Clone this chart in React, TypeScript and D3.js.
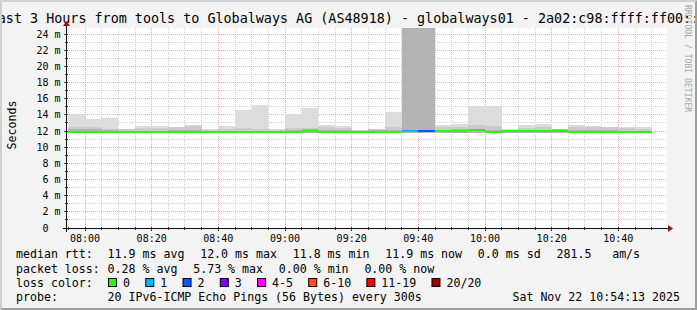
import React from "react";
import * as d3 from "d3";

// ---------- data ----------
const titleText =
  "Last 3 Hours from tools to Globalways AG (AS48918) - globalways01 - 2a02:c98:ffff:ff00::1";

const barEnds = [
  "08:00", "08:05", "08:10", "08:15", "08:20", "08:25", "08:30", "08:35", "08:40", "08:45",
  "08:50", "08:55", "09:00", "09:05", "09:10", "09:15", "09:20", "09:25", "09:30", "09:35",
  "09:40", "09:45", "09:50", "09:55", "10:00", "10:05", "10:10", "10:15", "10:20", "10:25",
  "10:30", "10:35", "10:40", "10:45", "10:50",
];
// smoke (ms)
const smokeMax = [
  14.1, 13.5, 13.6, 12.3, 12.65, 12.65, 12.5, 12.8, 12.3, 12.65,
  14.65, 15.2, 12.2, 14.1, 14.9, 12.75, 12.6, 12.15, 12.3, 14.35,
  30, 30, 12.7, 12.87, 15.05, 15.05, 12.2, 12.7, 12.87, 12.3,
  12.75, 12.6, 12.5, 12.5, 12.5,
];
const smokeUpper = [
  12.5, 12.5, 12.3, 12.2, 12.35, 12.35, 12.5, 12.6, 12.15, 12.3,
  12.4, 12.3, 12.1, 12.35, 12.4, 12.55, 12.4, 12.1, 12.25, 12.5,
  30, 30, 12.55, 12.45, 12.75, 12.65, 12.1, 12.4, 12.5, 12.2,
  12.5, 12.45, 12.5, 12.35, 12.3,
];
const smokeInner = [
  12.2, 12.2, 12.1, 12.05, 12.05, 12.05, 12.1, 12.1, 12.0, 12.05,
  12.05, 12.05, 12.0, 12.1, 12.2, 12.1, 12.1, 12.05, 12.1, 12.1,
  30, 30, 12.15, 12.2, 12.3, 12.1, 12.15, 12.15, 12.15, 12.2,
  12.1, 12.1, 12.1, 12.05, 12.05,
];
const medianRtt = [
  11.9, 11.9, 11.9, 11.85, 11.85, 11.85, 11.85, 11.85, 11.85, 11.85,
  11.85, 11.85, 11.85, 11.9, 12.05, 11.9, 11.9, 11.88, 11.9, 11.9,
  12.03, 12.05, 11.95, 12.0, 12.08, 11.88, 12.0, 11.95, 11.95, 12.0,
  11.9, 11.88, 11.88, 11.88, 11.85,
];
const smokeMin = [
  11.75, 11.75, 11.75, 11.72, 11.72, 11.72, 11.72, 11.72, 11.72, 11.72,
  11.72, 11.72, 11.72, 11.75, 11.75, 11.75, 11.75, 11.75, 11.75, 11.75,
  11.8, 11.8, 11.78, 11.8, 11.8, 11.75, 11.75, 11.78, 11.78, 11.8,
  11.75, 11.75, 11.75, 11.75, 11.72,
];
const lossCount = [
  0, 0, 0, 0, 0, 0, 0, 0, 0, 0,
  0, 0, 0, 0, 0, 0, 0, 0, 0, 0,
  1, 2, 0, 0, 0, 0, 0, 0, 0, 0,
  0, 0, 0, 0, 0,
];

const lossLabels = ["0", "1", "2", "3", "4-5", "6-10", "11-19", "20/20"];
const lossColors = ["#26ff00", "#00b8ff", "#0059ff", "#7e00ff", "#ff00ff", "#ff5500", "#ff0000", "#a10000"];
const lossUpper = [0, 1, 2, 3, 5, 10, 19, 20];

const rttStats = ["11.9 ms avg", "12.0 ms max", "11.8 ms min", "11.9 ms now", "0.0 ms sd", "281.5"];
const rateUnit = "am/s";
const lossStats = ["0.28 % avg", "5.73 % max", "0.00 % min", "0.00 % now"];
const probeText = "20 IPv6-ICMP Echo Pings (56 Bytes) every 300s";
const stampText = "Sat Nov 22 10:54:13 2025";

// ---------- component ----------
const MONO = "'DejaVu Sans Mono', monospace";

export default function App() {
  const W = 697, H = 310;
  const L = 67, R = 667, T = 28, B = 228;
  const day = (hh: number, mm: number, ss = 0) => new Date(2025, 10, 22, hh, mm, ss);
  const parse = (s: string) => {
    const [h, m] = s.split(":").map(Number);
    return day(h, m);
  };
  const x = d3.scaleTime().domain([day(7, 54, 36), day(10, 54, 36)]).range([L, R]);
  const y = d3.scaleLinear().domain([0, 24.75]).range([B, T]);
  const minorT = x.ticks(d3.timeMinute.every(5) as any);
  const majorT = x.ticks(d3.timeMinute.every(20) as any);
  const majorSet = new Set(majorT.map((d) => +d));
  const fmt = d3.timeFormat("%H:%M");
  const yVals = y.ticks(24).filter((v) => v > 0 && v <= 24);

  const px = (v: number) => Math.floor(v) + 0.5;

  const colorFor = (loss: number) => {
    const i = lossUpper.findIndex((u) => loss <= u);
    return lossColors[i < 0 ? lossColors.length - 1 : i];
  };

  const bars = barEnds.map((e, i) => {
    const t1 = parse(e);
    const t0 = new Date(+t1 - 300000);
    return { x0: Math.max(L, x(t0)), x1: x(t1), i };
  });

  const CW = 6.96; // legend char width
  const LF = 11.6;
  const gap = 16;
  const col0 = 16, col1 = 107.6;
  const rowY = [258, 272.5, 287, 301];

  const layout = (items: string[]) => {
    let cx = col1;
    return items.map((s) => {
      const r = { s, x: cx };
      cx += s.length * CW + gap;
      return r;
    });
  };
  const rttLayout = layout(rttStats);
  const lastRtt = rttLayout[rttLayout.length - 1];

  let sx = 108;
  const swatches = lossLabels.map((lab, i) => {
    const r = { lab, c: lossColors[i], x: sx };
    sx += 15 + lab.length * CW + 15.3;
    return r;
  });

  return (
    <svg width={W} height={H} style={{ position: "absolute", left: 0, top: 0, fontFamily: MONO }}>
      <defs>
        <clipPath id="cv">
          <rect x={L} y={T} width={R - L} height={B - T} />
        </clipPath>
        <clipPath id="img">
          <rect x={0} y={0} width={W} height={H} />
        </clipPath>
      </defs>
      <rect x={0} y={0} width={W} height={H} fill="#f3f3f3" />
      {/* title */}
      <text x={W / 2} y={23} fontSize={13.4} textAnchor="middle" fill="#000" clipPath="url(#img)">
        {titleText}
      </text>
      {/* canvas */}
      <rect x={L} y={T} width={R - L} height={B - T} fill="#ffffff" />
      {/* grid */}
      <g strokeDasharray="1,1" strokeWidth={1}>
        {minorT.filter((t) => !majorSet.has(+t)).map((t, i) => (
          <line key={"vm" + i} x1={px(x(t))} x2={px(x(t))} y1={T} y2={B} stroke="#d2d2d2" />
        ))}
        {yVals.filter((v) => v % 2 !== 0).map((v) => (
          <line key={"hm" + v} x1={L} x2={R} y1={px(y(v))} y2={px(y(v))} stroke="#d2d2d2" />
        ))}
        {majorT.map((t, i) => (
          <line key={"vM" + i} x1={px(x(t))} x2={px(x(t))} y1={T} y2={B} stroke="#eeaaaa" />
        ))}
        {yVals.filter((v) => v % 2 === 0).map((v) => (
          <line key={"hM" + v} x1={L} x2={R} y1={px(y(v))} y2={px(y(v))} stroke="#eeaaaa" />
        ))}
      </g>
      {/* smoke */}
      <g clipPath="url(#cv)" shapeRendering="crispEdges">
        {bars.map((b) => (
          <g key={"s" + b.i}>
            <rect x={b.x0} width={b.x1 - b.x0} y={y(smokeMax[b.i])}
              height={y(smokeMin[b.i]) - y(smokeMax[b.i])} fill="#dcdcdc" />
            <rect x={b.x0} width={b.x1 - b.x0} y={y(smokeUpper[b.i])}
              height={y(smokeMin[b.i]) - y(smokeUpper[b.i])} fill="#cbcbcb" />
            <rect x={b.x0} width={b.x1 - b.x0} y={y(smokeInner[b.i])}
              height={y(smokeMin[b.i]) - y(smokeInner[b.i])} fill="#b3b3b3" />
          </g>
        ))}
        {bars.map((b) => (
          <line key={"m" + b.i} x1={b.x0} x2={b.x1} y1={y(medianRtt[b.i])} y2={y(medianRtt[b.i])}
            stroke={colorFor(lossCount[b.i])} strokeWidth={2} />
        ))}
      </g>
      {/* axes */}
      <g stroke="#404040" strokeWidth={1} shapeRendering="crispEdges">
        {minorT.map((t, i) => (
          <line key={"xt" + i} x1={px(x(t))} x2={px(x(t))} y1={B - 1} y2={B + (majorSet.has(+t) ? 3 : 2)} />
        ))}
        {yVals.map((v) => (
          <line key={"yt" + v} x1={L - (v % 2 === 0 ? 3 : 2)} x2={L + 1} y1={px(y(v))} y2={px(y(v))} />
        ))}
      </g>
      <line x1={63} x2={668} y1={B + 0.5} y2={B + 0.5} stroke="#101010" strokeWidth={1} />
      <line x1={L - 0.5} x2={L - 0.5} y1={B + 4} y2={24} stroke="#101010" strokeWidth={1} />
      <path d={`M${668},${B - 3} L${673},${B + 0.5} L${668},${B + 4} Z`} fill="#8b1a1a" />
      <path d={`M${L - 4},${26} L${L - 0.5},${21} L${L + 3},${26} Z`} fill="#8b1a1a" />
      {/* y labels */}
      <g fontSize={10} fill="#000">
        {y.ticks(12).filter((v) => v <= 24).map((v) => (
          <text key={"yl" + v} x={v === 0 ? 48.5 : 60.5} y={y(v) + 3.5} textAnchor="end">
            {v === 0 ? "0" : `${v} m`}
          </text>
        ))}
        {majorT.map((t, i) => (
          <text key={"xl" + i} x={x(t)} y={241.5} textAnchor="middle">
            {fmt(t)}
          </text>
        ))}
      </g>
      <text transform={`translate(15.5,${125}) rotate(-90)`} fontSize={11.6} textAnchor="middle">
        Seconds
      </text>
      <text transform="translate(685,5) rotate(90)" fontSize={8.1} fill="#a6a6a6">
        RRDTOOL / TOBI OETIKER
      </text>
      {/* legend */}
      <g fontSize={LF} fill="#000">
        <text x={col0} y={rowY[0]}>median rtt:</text>
        {rttLayout.map((r, i) => (
          <text key={"r" + i} x={r.x} y={rowY[0]}>{r.s}</text>
        ))}
        <text x={lastRtt.x + (lastRtt.s.length + 3) * CW} y={rowY[0]}>{rateUnit}</text>
        <text x={col0} y={rowY[1]}>packet loss:</text>
        {layout(lossStats).map((r, i) => (
          <text key={"l" + i} x={r.x} y={rowY[1]}>{r.s}</text>
        ))}
        <text x={col0} y={rowY[2]}>loss color:</text>
        {swatches.map((s, i) => (
          <g key={"sw" + i}>
            <rect x={s.x + 0.5} y={rowY[2] - 8.5} width={8} height={8} fill={s.c} stroke="#000" strokeWidth={1} />
            <text x={s.x + 15} y={rowY[2]}>{s.lab}</text>
          </g>
        ))}
        <text x={col0} y={rowY[3]}>probe:</text>
        <text x={col1} y={rowY[3]}>{probeText}</text>
        <text x={680} y={rowY[3]} textAnchor="end">{stampText}</text>
      </g>
      {/* frame */}
      <path d={`M0,${H} L0,0 L${W},0 L${W - 2},2 L2,2 L2,${H - 2} Z`} fill="#cfcfcf" />
      <path d={`M${W},0 L${W},${H} L0,${H} L2,${H - 2} L${W - 2},${H - 2} L${W - 2},2 Z`} fill="#9e9e9e" />
    </svg>
  );
}
